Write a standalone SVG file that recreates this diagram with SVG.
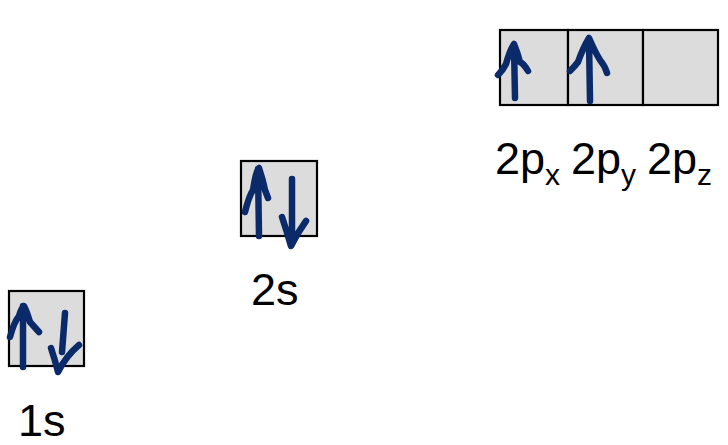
<svg xmlns="http://www.w3.org/2000/svg" width="728" height="445" viewBox="0 0 728 445">
<style>
.box{fill:#dcdcdc;stroke:#000;stroke-width:2.2}
.arr{fill:none;stroke:#0b2a6a;stroke-width:6.5;stroke-linecap:round;stroke-linejoin:round}
.lbl{font-family:"Liberation Sans",Arial,sans-serif;font-size:45px;fill:#000}
.sub{font-size:30px}
</style>
<rect width="728" height="445" fill="#fff"/>
<g id="orb-1s">
<rect class="box" x="9" y="291" width="75" height="75"/>
<path class="arr" d="M23,367 L23,306 M10,337 Q14,322 19,316 Q22,306 24,306 Q27,312 30,322 L39,332"/>
<path class="arr" d="M65,313 L62,352 M51,348 Q55,360 58,372 Q66,356 79,345"/>
<text class="lbl" x="18" y="436">1s</text>
</g>
<g id="orb-2s">
<rect class="box" x="241" y="161" width="76" height="75"/>
<path class="arr" d="M259,236 L258,169 M245,212 Q249,196 253,190 Q256,170 259,168 Q263,180 265,190 L268,198"/>
<path class="arr" d="M292,179 L292,244 M282,217 Q287,232 291,246 Q298,232 306,221"/>
<text class="lbl" x="251" y="305">2s</text>
</g>
<g id="orb-2px">
<rect class="box" x="500" y="30" width="68" height="75"/>
<path class="arr" d="M515,98 L514,46 M498,75 Q503,70 506,64 Q510,50 514,44 Q518,54 520,62 Q524,64 528,71"/>
<text class="lbl" x="495" y="174">2p<tspan class="sub" dy="11">x</tspan></text>
</g>
<g id="orb-2py">
<rect class="box" x="568" y="30" width="75" height="75"/>
<path class="arr" d="M590,101 L589,40 M570,71 Q575,66 578,62 Q583,48 589,38 Q595,52 600,60 Q605,66 607,73"/>
<text class="lbl" x="571" y="174">2p<tspan class="sub" dy="11">y</tspan></text>
</g>
<g id="orb-2pz">
<rect class="box" x="643" y="30" width="75" height="75"/>
<text class="lbl" x="647" y="174">2p<tspan class="sub" dy="11">z</tspan></text>
</g>
<g id="connectors"/>
</svg>
